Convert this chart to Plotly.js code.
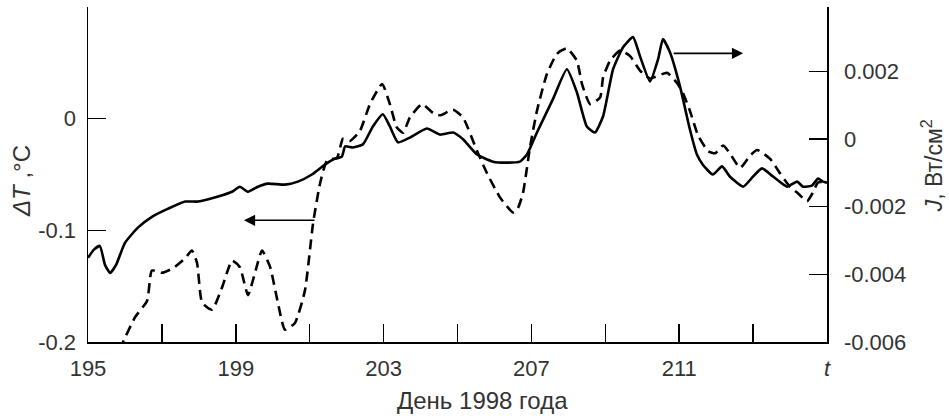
<!DOCTYPE html>
<html>
<head>
<meta charset="utf-8">
<script src="https://cdn.plot.ly/plotly-3.0.1.min.js"></script>
<style>html,body{margin:0;padding:0;background:#fff;}#chart{width:949px;height:418px;}</style>
</head>
<body>
<div id="chart"></div>
<script>
// J, W/cm^2 (solid line, right axis)
const solidDay = [195.00,195.16,195.32,195.46,195.60,195.76,196.00,196.35,196.73,197.17,197.63,197.98,198.52,198.90,199.11,199.33,199.60,199.87,200.33,200.68,201.06,201.41,201.63,201.87,201.96,202.17,202.44,202.71,202.98,203.17,203.39,203.71,204.17,204.53,204.88,205.15,205.53,205.96,206.34,206.69,206.88,207.15,207.58,207.96,208.23,208.50,208.72,208.94,209.21,209.48,209.75,209.94,210.21,210.43,210.56,210.75,211.02,211.29,211.48,211.64,211.91,212.16,212.37,212.73,213.00,213.24,213.54,213.92,214.19,214.35,214.59,214.76,214.89,215.00];
const solidJ = [-0.00351,-0.00327,-0.00316,-0.00372,-0.00396,-0.00372,-0.00307,-0.00262,-0.00230,-0.00206,-0.00185,-0.00185,-0.00170,-0.00156,-0.00141,-0.00156,-0.00141,-0.00132,-0.00135,-0.00126,-0.00105,-0.00076,-0.00061,-0.00052,-0.00022,-0.00025,-0.00016,0.00037,0.00073,0.00037,-0.00010,0.00004,0.00031,0.00013,0.00019,-0.00001,-0.00046,-0.00067,-0.00070,-0.00067,-0.00046,0.00019,0.00117,0.00206,0.00138,0.00037,0.00019,0.00067,0.00206,0.00271,0.00301,0.00244,0.00170,0.00236,0.00295,0.00256,0.00156,0.00028,-0.00046,-0.00076,-0.00105,-0.00081,-0.00111,-0.00141,-0.00111,-0.00087,-0.00111,-0.00141,-0.00126,-0.00141,-0.00138,-0.00117,-0.00126,-0.00129];

// ΔT, °C (dashed line, left axis)
const dashDay = [195.87,195.95,196.27,196.60,196.73,197.00,197.30,197.63,197.81,197.95,198.09,198.36,198.63,198.90,199.11,199.33,199.52,199.71,199.93,200.14,200.33,200.60,200.87,201.09,201.28,201.47,201.74,201.90,202.09,202.36,202.63,202.96,203.17,203.36,203.53,203.71,204.04,204.34,204.53,204.88,205.15,205.53,205.80,206.15,206.50,206.61,206.77,206.96,207.15,207.42,207.69,207.96,208.23,208.37,208.59,208.86,208.94,209.13,209.40,209.67,209.94,210.21,210.67,210.94,211.10,211.29,211.51,211.78,211.97,212.19,212.37,212.65,212.92,213.11,213.46,213.73,214.00,214.22,214.46,214.62,214.76,215.00];
const dashT = [-0.207,-0.200,-0.178,-0.163,-0.136,-0.138,-0.134,-0.125,-0.118,-0.129,-0.165,-0.171,-0.151,-0.127,-0.133,-0.158,-0.138,-0.118,-0.133,-0.165,-0.189,-0.183,-0.154,-0.094,-0.058,-0.0375,-0.035,-0.018,-0.020,-0.011,0.013,0.031,0.013,-0.008,-0.0125,0.001,0.013,0.005,0.003,0.008,0.001,-0.029,-0.049,-0.0705,-0.084,-0.082,-0.067,-0.026,0.007,0.040,0.058,0.063,0.052,0.031,0.013,0.019,0.037,0.052,0.061,0.056,0.043,0.036,0.041,0.032,0.023,0.007,-0.015,-0.029,-0.031,-0.024,-0.031,-0.044,-0.033,-0.028,-0.036,-0.049,-0.061,-0.067,-0.074,-0.066,-0.057,-0.057];

// axis ticks
const xTickVals = [195,197,199,201,203,205,207,209,211,213,215];
const xTickText = ['195','','199','','203','','207','','211','','<i>t</i>'];
const yLeftVals = [-0.2,-0.1,0];
const yLeftText = ['-0.2','-0.1','0'];
const yRightVals = [-0.006,-0.004,-0.002,0,0.002];
const yRightText = ['-0.006','-0.004','-0.002','0','0.002'];

// titles
const xTitle = 'День 1998 года';
const yLeftTitle = '<i>ΔT</i> ,°C';
const yRightTitle = '<i>J</i>, Вт/см<sup>2</sup>';

// arrows pointing to the axis of each curve: [tailDay, headDay, level]
const arrowLeft = [201.17, 199.22, -0.091];
const arrowRight = [210.81, 212.73, 0.00253];

const font = {family: 'Liberation Sans, Arial, sans-serif', size: 22, color: '#333'};
const titleFont = {family: 'Liberation Sans, Arial, sans-serif', size: 24, color: '#333'};
const rightTitleFont = {family: 'Liberation Sans, Arial, sans-serif', size: 23, color: '#333'};

const traces = [
  {x: dashDay, y: dashT, type: 'scatter', mode: 'lines', yaxis: 'y',
   line: {color: '#000', width: 2.6, dash: '10px,6px', shape: 'spline', smoothing: 0.5}, showlegend: false},
  {x: solidDay, y: solidJ, type: 'scatter', mode: 'lines', yaxis: 'y2',
   line: {color: '#000', width: 2.6, shape: 'spline', smoothing: 0.5}, showlegend: false}
];

const axisCommon = {showgrid: false, zeroline: false, showline: true, linecolor: '#000', linewidth: 1.5,
  ticks: 'inside', ticklen: 18, tickwidth: 1.5, tickcolor: '#000', tickfont: font};

const layout = {
  width: 949, height: 418,
  margin: {l: 88, r: 122, t: 7, b: 76},
  paper_bgcolor: '#fff', plot_bgcolor: '#fff',
  font: font,
  xaxis: Object.assign({}, axisCommon, {range: [195, 215], tickmode: 'array', tickvals: xTickVals, ticktext: xTickText,
    ticklabelstandoff: 6}),
  yaxis: Object.assign({}, axisCommon, {range: [-0.2, 0.1], tickmode: 'array', tickvals: yLeftVals, ticktext: yLeftText,
    ticklabelstandoff: 6}),
  yaxis2: Object.assign({}, axisCommon, {overlaying: 'y', side: 'right', range: [-0.006, 0.0039], tickmode: 'array',
    tickvals: yRightVals, ticktext: yRightText, ticklabelstandoff: 11}),
  annotations: [
    {xref: 'paper', yref: 'paper', x: 0.5345, y: -0.176, xanchor: 'center', yanchor: 'middle',
     text: xTitle, showarrow: false, font: titleFont},
    {xref: 'paper', yref: 'paper', x: -0.0893, y: 0.4806, xanchor: 'center', yanchor: 'middle', textangle: -90,
     text: yLeftTitle, showarrow: false, font: titleFont},
    {xref: 'paper', yref: 'paper', x: 1.1425, y: 0.5254, xanchor: 'center', yanchor: 'middle', textangle: -90,
     text: yRightTitle, showarrow: false, font: rightTitleFont},
    {xref: 'x', yref: 'y', axref: 'x', ayref: 'y', x: arrowLeft[1], y: arrowLeft[2], ax: arrowLeft[0], ay: arrowLeft[2],
     showarrow: true, arrowhead: 2, arrowsize: 1.4, arrowwidth: 1.6, arrowcolor: '#000', text: ''},
    {xref: 'x', yref: 'y2', axref: 'x', ayref: 'y2', x: arrowRight[1], y: arrowRight[2], ax: arrowRight[0], ay: arrowRight[2],
     showarrow: true, arrowhead: 2, arrowsize: 1.4, arrowwidth: 1.6, arrowcolor: '#000', text: ''}
  ]
};

Plotly.newPlot('chart', traces, layout, {displayModeBar: false, staticPlot: true});
</script>
</body>
</html>
